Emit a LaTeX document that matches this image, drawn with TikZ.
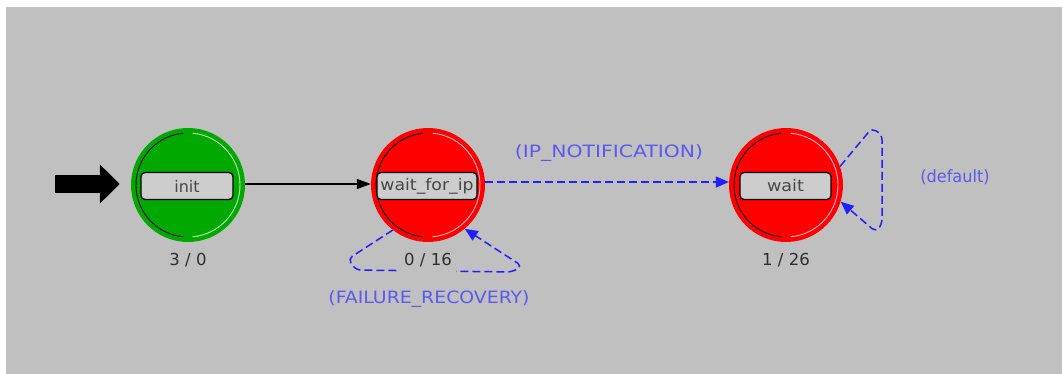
\documentclass[tikz,border=0pt]{standalone}
\usepackage{fontspec}
\setmainfont{DejaVu Sans}
\usetikzlibrary{arrows.meta}

\definecolor{bg}{HTML}{C0C0C0}
\definecolor{stgreen}{HTML}{00A800}
\definecolor{stred}{HTML}{FF0000}
\definecolor{trblue}{HTML}{2020FF}
\definecolor{trlabel}{HTML}{5A5AF0}
\definecolor{boxfill}{HTML}{CDCDCD}
\definecolor{lgreen}{HTML}{B8FFB8}
\definecolor{lpink}{HTML}{FFB8D0}

\begin{document}
\begin{tikzpicture}[x=1pt,y=-1pt,
  state/.style={circle, minimum size=114pt, inner sep=0pt},
  namebox/.style={draw=black, line width=1.3pt, fill=boxfill, rounded corners=4pt,
    minimum height=27pt, inner sep=0pt, text=black!72, font=\fontsize{16}{16}\selectfont},
  count/.style={font=\fontsize{16.5}{16.5}\selectfont, text=black!82},
  trans/.style={draw=trblue, line width=1.5pt, dash pattern=on 8pt off 4pt,
    -{Triangle[length=13pt,width=11pt]}, rounded corners=5pt},
  translabel/.style={text=trlabel, font=\fontsize{17}{17}\selectfont},
  ringdark/.style={draw=black, line width=0.9pt},
]
\useasboundingbox (0,0) rectangle (1063,374);
\fill[white] (0,0) rectangle (1063,374);
\fill[bg] (6,7) rectangle (1062,374);

% states
\node[state, fill=stgreen] (init) at (188,185) {};
\node[state, fill=stred] (wfi) at (428,185) {};
\node[state, fill=stred] (wait) at (786,185) {};

% inner rings: dark on the left half, light on the right half
\draw[ringdark] (init.center) ++(95:52) arc[start angle=95, end angle=265, radius=52];
\draw[lgreen, line width=0.9pt] (init.center) ++(-85:52) arc[start angle=-85, end angle=85, radius=52];
\draw[ringdark] (wfi.center) ++(95:52) arc[start angle=95, end angle=265, radius=52];
\draw[lpink, line width=0.9pt] (wfi.center) ++(-85:52) arc[start angle=-85, end angle=85, radius=52];
\draw[ringdark] (wait.center) ++(95:52) arc[start angle=95, end angle=265, radius=52];
\draw[lpink, line width=0.9pt] (wait.center) ++(-85:52) arc[start angle=-85, end angle=85, radius=52];

% name boxes
\node[namebox, minimum width=92pt] (initbox) at (187,186) {init};
\node[namebox, minimum width=100pt] (wfibox) at (427,186) {\scalebox{1.08}[1]{wait\_for\_ip}};
\node[namebox, minimum width=91pt] (waitbox) at (785.5,186) {\scalebox{1.1}[1]{wait}};

% entry arrow
\coordinate (entry) at (55,184);
\draw[line width=18pt, -{Triangle[length=20pt,width=38pt]}, shorten >=11pt]
  (entry) -- (init.west |- entry);

% transitions
\draw[black, line width=1.2pt, -{Triangle[length=14pt,width=10pt]}]
  (init.east |- 0,184) -- (wfi.west |- 0,184);
\draw[trans] (wfi.3) -- (wait.177);
\draw[trans] (wfi.232) -- (348,259) -- (356,270) -- (512,272) -- (522,266) -- (wfi.310);
\draw[trans] (wait.19) -- (872,128) -- (882,135) -- (882,224) -- (876,232) -- (wait.-17);

% counts
\node[count] (c1) at (188,260) {3 / 0};
\node[count, fill=bg, inner xsep=4pt, inner ysep=8pt] (c2) at (428,260) {0 / 16};
\node[count] (c3) at (786,260) {1 / 26};

% transition labels
\node[translabel] (l1) at (609,153) {\scalebox{1.2}[1]{(IP\_NOTIFICATION)}};
\node[translabel] (l2) at (429,299) {\scalebox{1.11}[1]{(FAILURE\_RECOVERY)}};
\node[translabel] (l3) at (955,177) {\scalebox{0.95}[1]{(default)}};
\end{tikzpicture}
\end{document}
